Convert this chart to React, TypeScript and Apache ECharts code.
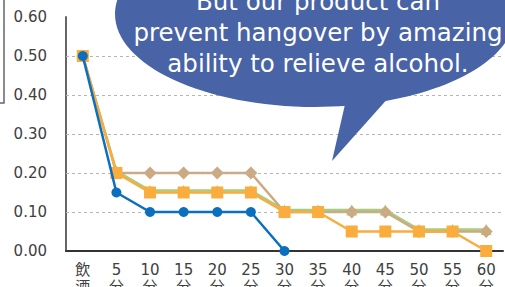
import React, { useEffect, useRef } from "react";
import * as echarts from "echarts";

const categories = ["飲\n酒", "5\n分", "10\n分", "15\n分", "20\n分", "25\n分", "30\n分", "35\n分", "40\n分", "45\n分", "50\n分", "55\n分", "60\n分"];
const blueValues: (number | null)[] = [0.5, 0.15, 0.1, 0.1, 0.1, 0.1, 0.0, null, null, null, null, null, null];
const orangeValues = [0.5, 0.2, 0.15, 0.15, 0.15, 0.15, 0.1, 0.1, 0.05, 0.05, 0.05, 0.05, 0.0];
const tanValues = [0.5, 0.2, 0.2, 0.2, 0.2, 0.2, 0.1, 0.1, 0.1, 0.1, 0.05, 0.05, 0.05];
const greenValues = [0.5, 0.205, 0.155, 0.155, 0.155, 0.155, 0.105, 0.105, 0.105, 0.105, 0.055, 0.055, 0.055];
const gridValues = [0.1, 0.2, 0.3, 0.4, 0.5];
const bubbleLines = ["But our product can", "prevent hangover by amazing", "ability to relieve alcohol."];

export default function App() {
  const ref = useRef<HTMLDivElement>(null);
  useEffect(() => {
    if (!ref.current) return;
    const chart = echarts.init(ref.current, null, { renderer: "svg" });
    const font = "'DejaVu Sans', 'Noto Sans CJK JP', sans-serif";
    chart.setOption({
      animation: false,
      grid: { left: 66, right: 2, top: 17, bottom: 36, outerBoundsMode: "none", containLabel: false },
      xAxis: {
        type: "category",
        data: categories,
        boundaryGap: true,
        axisLine: { lineStyle: { color: "#333", width: 2 } },
        axisTick: { show: false },
        axisLabel: { color: "#404040", fontSize: 15, lineHeight: 17, margin: 10, fontFamily: font, interval: 0 },
      },
      yAxis: {
        type: "value",
        min: 0,
        max: 0.6,
        interval: 0.1,
        axisLine: { show: true, lineStyle: { color: "#666", width: 2 } },
        axisTick: { show: false },
        splitLine: { show: false },
        axisLabel: { color: "#404040", fontSize: 15, margin: 19, fontFamily: font, formatter: (v: number) => v.toFixed(2) },
      },
      series: [
        {
          type: "line",
          data: [],
          z: 1,
          silent: true,
          markLine: {
            silent: true,
            symbol: "none",
            label: { show: false },
            lineStyle: { color: "#b5b5b5", type: [3, 3], width: 1 },
            data: gridValues.map((v) => ({ yAxis: v })),
          },
        },
        {
          type: "line",
          data: greenValues,
          symbol: "triangle",
          symbolSize: 11,
          itemStyle: { color: "#A5CF7E" },
          lineStyle: { color: "#A5CF7E", width: 2.5 },
          z: 3,
        },
        {
          type: "line",
          data: tanValues,
          symbol: "diamond",
          symbolSize: 13,
          itemStyle: { color: "#CDA97F" },
          lineStyle: { color: "#CDA97F", width: 2.5 },
          z: 4,
        },
        {
          type: "line",
          data: orangeValues,
          symbol: "rect",
          symbolSize: 12,
          itemStyle: { color: "#FAAC3C" },
          lineStyle: { color: "#FAAC3C", width: 2.5 },
          z: 5,
        },
        {
          type: "line",
          data: blueValues,
          symbol: "circle",
          symbolSize: 10,
          itemStyle: { color: "#0A6FBE" },
          lineStyle: { color: "#0A6FBE", width: 2.5 },
          z: 6,
        },
      ],
      graphic: [
        {
          type: "polyline",
          z: 50,
          shape: { points: [[4, 0], [4, 103], [0, 103]] },
          style: { stroke: "#666", lineWidth: 1.5, fill: null },
        },
        {
          type: "ellipse",
          z: 100,
          shape: { cx: 315, cy: 14, rx: 200, ry: 93 },
          style: { fill: "#4863A6" },
        },
        {
          type: "polygon",
          z: 100,
          shape: { points: [[346, 100], [332, 161], [390, 96]] },
          style: { fill: "#4863A6" },
        },
        {
          type: "text",
          z: 101,
          x: 318,
          y: 32,
          style: {
            text: bubbleLines.join("\n"),
            fill: "#ffffff",
            font: "24.5px 'DejaVu Sans', sans-serif",
            lineHeight: 31,
            align: "center",
            verticalAlign: "middle",
          },
        },
      ],
    });
    return () => chart.dispose();
  }, []);
  return <div ref={ref} style={{ width: 505, height: 287, position: "absolute", left: 0, top: 0 }} />;
}
